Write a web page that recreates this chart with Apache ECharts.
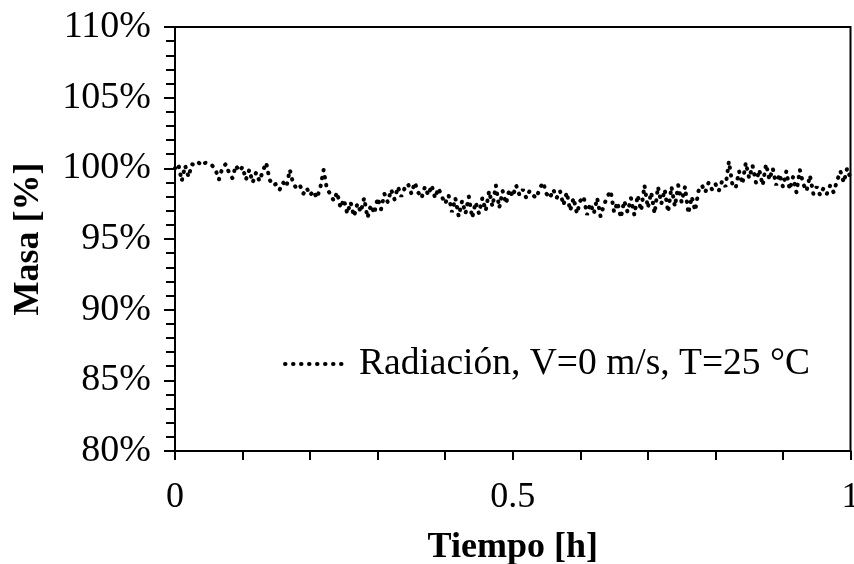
<!DOCTYPE html>
<html>
<head>
<meta charset="utf-8">
<title>Masa vs Tiempo</title>
<script src="https://cdn.jsdelivr.net/npm/echarts@6/dist/echarts.min.js"></script>
<style>
  html, body { margin: 0; padding: 0; background: #fff; }
  #chart { width: 854px; height: 564px; }
</style>
</head>
<body>
<div id="chart"></div>
<script>
// Tiempo de ensayo [h]
const tiempo = [
  0.000, 0.005, 0.010, 0.015, 0.020, 0.025, 0.030, 0.035, 0.040, 0.045,
  0.050, 0.055, 0.060, 0.065, 0.070, 0.075, 0.080, 0.085, 0.090, 0.095,
  0.100, 0.105, 0.110, 0.115, 0.120, 0.125, 0.130, 0.135, 0.140, 0.145,
  0.150, 0.155, 0.160, 0.165, 0.170, 0.175, 0.180, 0.185, 0.190, 0.195,
  0.200, 0.205, 0.210, 0.215, 0.220, 0.225, 0.230, 0.235, 0.240, 0.245,
  0.250, 0.255, 0.260, 0.265, 0.270, 0.275, 0.280, 0.285, 0.290, 0.295,
  0.300, 0.305, 0.310, 0.315, 0.320, 0.325, 0.330, 0.335, 0.340, 0.345,
  0.350, 0.355, 0.360, 0.365, 0.370, 0.375, 0.380, 0.385, 0.390, 0.395,
  0.400, 0.405, 0.410, 0.415, 0.420, 0.425, 0.430, 0.435, 0.440, 0.445,
  0.450, 0.455, 0.460, 0.465, 0.470, 0.475, 0.480, 0.485, 0.490, 0.495,
  0.500, 0.505, 0.510, 0.515, 0.520, 0.525, 0.530, 0.535, 0.540, 0.545,
  0.550, 0.555, 0.560, 0.565, 0.570, 0.575, 0.580, 0.585, 0.590, 0.595,
  0.600, 0.605, 0.610, 0.615, 0.620, 0.625, 0.630, 0.635, 0.640, 0.645,
  0.650, 0.655, 0.660, 0.665, 0.670, 0.675, 0.680, 0.685, 0.690, 0.695,
  0.700, 0.705, 0.710, 0.715, 0.720, 0.725, 0.730, 0.735, 0.740, 0.745,
  0.750, 0.755, 0.760, 0.765, 0.770, 0.775, 0.780, 0.785, 0.790, 0.795,
  0.800, 0.805, 0.810, 0.815, 0.820, 0.825, 0.830, 0.835, 0.840, 0.845,
  0.850, 0.855, 0.860, 0.865, 0.870, 0.875, 0.880, 0.885, 0.890, 0.895,
  0.900, 0.905, 0.910, 0.915, 0.920, 0.925, 0.930, 0.935, 0.940, 0.945,
  0.950, 0.955, 0.960, 0.965, 0.970, 0.975, 0.980, 0.985, 0.990, 0.995,
  1.000
];

// Masa relativa [%] registrada en cada instante
const masa = [
  100.0, 100.3, 99.1, 100.2, 99.4, 100.3, 100.2, 100.4, 100.2, 100.4,
  100.3, 100.2, 99.9, 99.2, 100.0, 100.3, 99.7, 99.3, 100.2, 99.8,
  100.1, 99.2, 99.9, 99.0, 99.7, 99.1, 99.8, 100.4, 99.2, 98.8,
  98.9, 98.5, 99.0, 98.7, 99.9, 98.9, 98.6, 98.8, 98.2, 98.6,
  98.1, 98.4, 97.9, 98.6, 99.9, 98.5, 98.2, 97.7, 98.3, 97.2,
  97.8, 96.8, 97.6, 96.6, 97.5, 96.9, 97.9, 96.5, 97.4, 96.8,
  97.9, 97.1, 98.2, 97.6, 98.5, 97.8, 98.7, 98.0, 98.6, 98.9,
  98.2, 99.0, 98.3, 97.9, 98.7, 98.1, 98.8, 97.9, 98.6, 98.0,
  97.5, 98.1, 96.9, 97.9, 96.6, 97.7, 96.8, 98.0, 96.5, 97.6,
  96.8, 97.9, 97.0, 98.4, 97.3, 98.8, 97.2, 98.4, 97.5, 98.5,
  98.0, 98.8, 98.1, 98.5, 97.9, 98.4, 98.1, 97.9, 98.6, 99.0,
  98.2, 97.9, 98.5, 97.9, 98.4, 97.4, 98.3, 97.0, 97.9, 96.8,
  97.7, 98.0, 96.7, 97.5, 96.8, 97.9, 96.6, 97.4, 98.0, 98.4,
  96.9, 97.6, 96.5, 97.7, 96.9, 97.9, 96.7, 98.1, 97.0, 98.8,
  97.2, 98.3, 96.8, 98.7, 97.5, 98.5, 96.9, 98.7, 97.3, 98.8,
  97.6, 98.7, 96.8, 98.0, 97.0, 98.4, 98.8, 98.3, 99.0, 98.5,
  98.9, 98.4, 99.1, 98.7, 100.5, 98.9, 98.6, 99.8, 98.9, 100.4,
  99.3, 100.2, 99.0, 99.9, 98.8, 100.3, 99.2, 100.0, 98.8, 99.6,
  98.7, 99.8, 98.5, 99.4, 98.3, 99.9, 98.9, 98.4, 99.5, 98.2,
  98.7, 98.1, 98.6, 98.2, 98.8, 98.3, 99.1, 99.8, 99.0, 100.0,
  99.3
];

const nombreSerie = 'Radiación, V=0 m/s, T=25 °C';
const etiquetasX = ['0', '0.5', '1'];
const ejeY = { min: 80, max: 110, paso: 5 };
const ejeX = { min: 0, max: 1, paso: 0.1 };

const fuente = '"Liberation Serif", "Times New Roman", Times, serif';
const tamTexto = 36;

// Trazo punteado común a la serie y a su muestra en la leyenda
const trazoPunteado = { color: '#000', width: 4, type: [0.5, 7.5], cap: 'round' };

const chart = echarts.init(document.getElementById('chart'), null, { renderer: 'canvas' });

chart.setOption({
  animation: false,
  backgroundColor: '#ffffff',
  textStyle: { fontFamily: fuente, color: '#000' },
  grid: {
    left: 175, right: 3.5, top: 27, bottom: 113,
    outerBoundsMode: 'none',
    containLabel: false,
    show: true, borderColor: '#000', borderWidth: 2,
    backgroundColor: 'transparent'
  },
  legend: {
    data: [nombreSerie],
    left: 283, top: 345, padding: 0,
    itemWidth: 62, itemHeight: 12,
    itemStyle: { opacity: 0, color: 'transparent', borderWidth: 0 },
    lineStyle: trazoPunteado,
    textStyle: { fontFamily: fuente, fontSize: 37.5, color: '#000', padding: [0, 0, 0, 7] }
  },
  xAxis: {
    type: 'value',
    min: ejeX.min, max: ejeX.max, interval: ejeX.paso,
    name: 'Tiempo [h]',
    nameLocation: 'middle', nameGap: 79,
    nameTextStyle: { fontFamily: fuente, fontSize: tamTexto, fontWeight: 'bold', color: '#000' },
    axisLine: { show: true, onZero: false, lineStyle: { color: '#000', width: 2 } },
    axisTick: { show: true, inside: false, length: 9, lineStyle: { color: '#000', width: 2 } },
    axisLabel: {
      margin: 29, fontFamily: fuente, fontSize: tamTexto, color: '#000',
      formatter: function (v) {
        const s = String(Math.round(v * 10) / 10);
        return etiquetasX.indexOf(s) >= 0 ? s : '';
      }
    },
    splitLine: { show: false }
  },
  yAxis: {
    type: 'value',
    min: ejeY.min, max: ejeY.max, interval: ejeY.paso,
    name: 'Masa [%]',
    nameLocation: 'middle', nameGap: 128, nameRotate: 90,
    nameTextStyle: { fontFamily: fuente, fontSize: tamTexto, fontWeight: 'bold', color: '#000' },
    axisLine: { show: true, onZero: false, lineStyle: { color: '#000', width: 2 } },
    axisTick: { show: true, inside: false, length: 11, lineStyle: { color: '#000', width: 2 } },
    minorTick: { show: true, splitNumber: 5, length: 9, lineStyle: { color: '#000', width: 2 } },
    axisLabel: {
      margin: 24, fontFamily: fuente, fontSize: 38, color: '#000',
      formatter: function (v) { return v + '%'; }
    },
    splitLine: { show: false },
    minorSplitLine: { show: false }
  },
  series: [{
    name: nombreSerie,
    type: 'line',
    data: tiempo.map(function (t, i) { return [t, masa[i]]; }),
    showSymbol: false,
    symbol: 'none',
    smooth: false,
    lineStyle: trazoPunteado,
    itemStyle: { color: '#000' }
  }]
});
</script>
</body>
</html>
